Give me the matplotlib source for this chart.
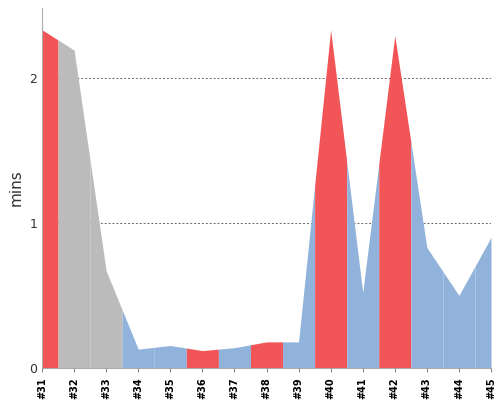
import matplotlib
matplotlib.use("Agg")
import matplotlib.pyplot as plt
import numpy as np

labels = ["#31","#32","#33","#34","#35","#36","#37","#38","#39","#40","#41","#42","#43","#44","#45"]
values = [2.33,2.19,0.67,0.13,0.155,0.12,0.14,0.18,0.18,2.33,0.52,2.29,0.83,0.5,0.9]
status = ["bad","skip","skip","ok","ok","bad","ok","bad","ok","bad","ok","bad","ok","ok","ok"]
palette = {"bad":"#f25557","skip":"#bbbbbb","ok":"#91b3db"}

fig = plt.figure(figsize=(5,4), dpi=100)
ax = fig.add_axes([0.084, 0.08, 0.898, 0.9])
x = np.arange(len(values))
for i in x:
    a = max(i-0.5, 0); b = min(i+0.5, len(values)-1)
    xs = np.array([a, i, b])
    ax.fill_between(xs, np.interp(xs, x, values), 0, color=palette[status[i]], lw=0)
ax.set_xlim(0, len(values)-1)
ax.set_ylim(0, 2.48)
ax.set_yticks([0,1,2])
ax.set_xticks(x)
ax.set_xticklabels(labels, rotation=90, fontsize=7, fontweight="bold")
ax.tick_params(axis="y", labelsize=9, colors="#333333", length=0)
ax.tick_params(axis="x", length=3, color="#888888")
ax.set_ylabel("mins", fontsize=11, color="#333333")
for y in [1,2]:
    ax.axhline(y, color="#666666", ls=(0,(2,2)), lw=0.7, zorder=0)
for s in ["top","right"]:
    ax.spines[s].set_visible(False)
ax.spines["left"].set_color("#aaaaaa")
ax.spines["bottom"].set_color("#aaaaaa")
fig.savefig("out.png")
